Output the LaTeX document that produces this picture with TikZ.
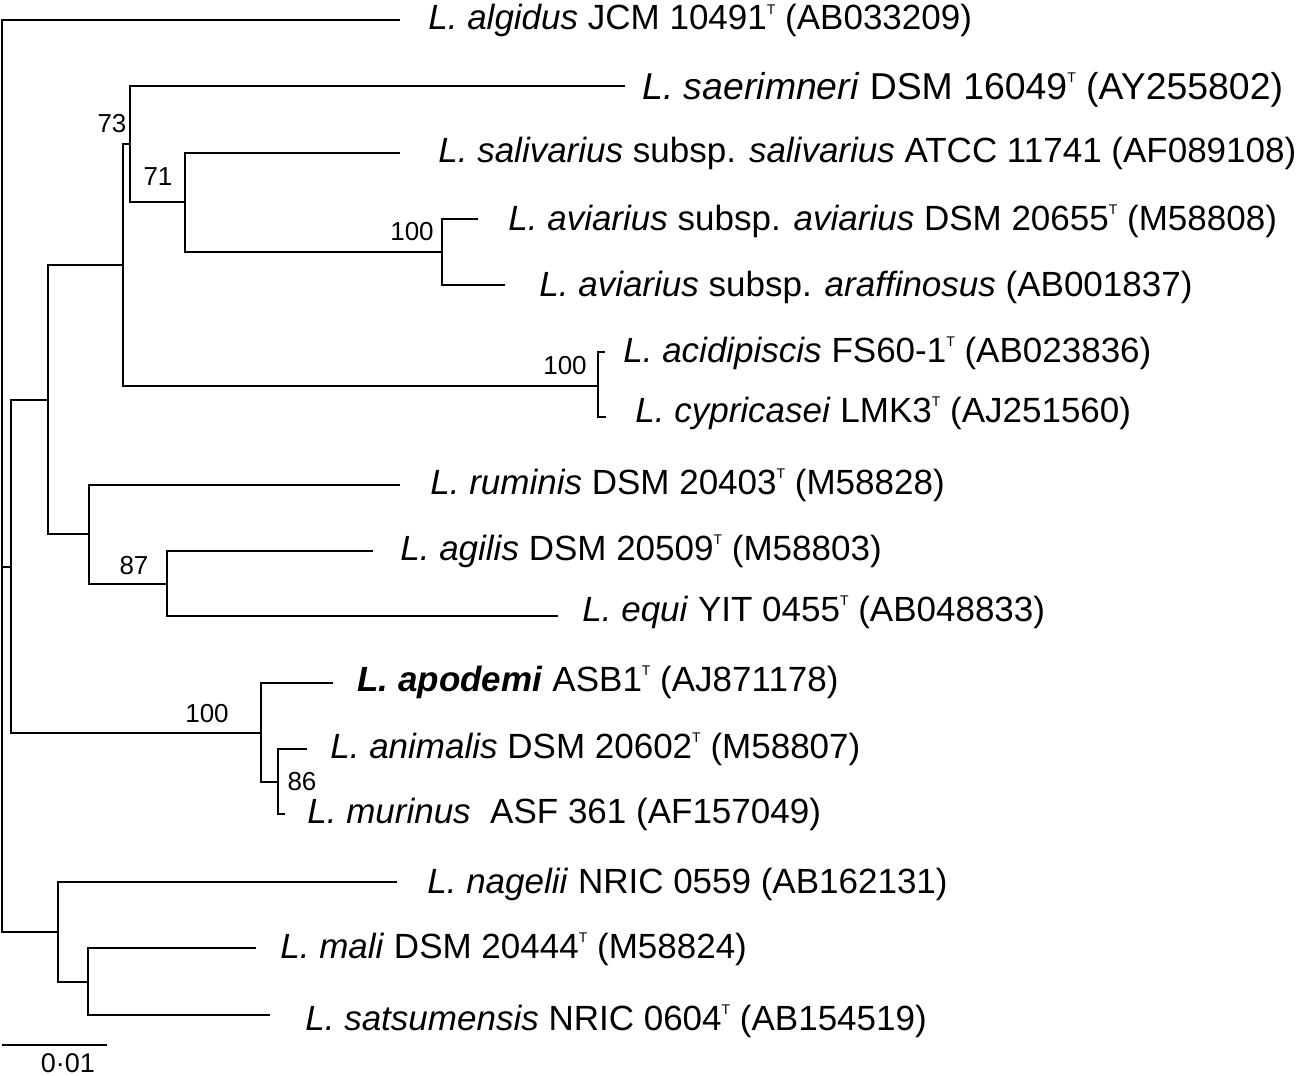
\documentclass[tikz,border=0pt]{standalone}
\usepackage{fontspec}
\setmainfont{Liberation Sans}
\usepackage{tikz}
\newcommand{\tst}{\raisebox{0.44em}{\fontsize{7}{7}\selectfont T}}
\tikzset{
  branch/.style={line width=0.8pt},
  taxon/.style={anchor=base west, inner sep=0pt, font=\fontsize{17.5}{21}\selectfont},
  boot/.style={inner sep=0pt, font=\fontsize{13}{15}\selectfont},
}

\begin{document}
\begin{tikzpicture}[x=0.5pt, y=-0.5pt]
  \useasboundingbox (0,0) rectangle (1302,1076);

  % internal nodes (x = depth, y = where the branch joins its parent)
  \coordinate (root) at (2,567);
  \coordinate (nA) at (11,567);
  \coordinate (nB) at (48,400);
  \coordinate (nC) at (123,265);
  \coordinate (nE) at (130,144);
  \coordinate (nF) at (185,202);
  \coordinate (nG) at (442,252);
  \coordinate (nK) at (598,386);
  \coordinate (nD) at (89,534);
  \coordinate (nH) at (167,584);
  \coordinate (nM) at (261,733);
  \coordinate (nL) at (278,782);
  \coordinate (nN) at (58,932);
  \coordinate (nJ) at (88,982);

  % tips
  \coordinate (tAlg) at (400,20);
  \coordinate (tSaer) at (625,86);
  \coordinate (tSal) at (400,153);
  \coordinate (tAvi) at (478,219);
  \coordinate (tAraf) at (505,285);
  \coordinate (tAcid) at (605,352);
  \coordinate (tCyp) at (606,417);
  \coordinate (tRum) at (400,485);
  \coordinate (tAgi) at (373,551);
  \coordinate (tEqu) at (558,616);
  \coordinate (tApo) at (333,683);
  \coordinate (tAni) at (307,749);
  \coordinate (tMur) at (285,814);
  \coordinate (tNag) at (397,882);
  \coordinate (tMal) at (256,948);
  \coordinate (tSat) at (270,1015);

  % branches
  \draw[branch] (root) |- (tAlg);
  \draw[branch] (root) |- (nA);
  \draw[branch] (root) |- (nN);
  \draw[branch] (nA) |- (nB);
  \draw[branch] (nA) |- (nM);
  \draw[branch] (nB) |- (nC);
  \draw[branch] (nB) |- (nD);
  \draw[branch] (nC) |- (nE);
  \draw[branch] (nC) |- (nK);
  \draw[branch] (nE) |- (tSaer);
  \draw[branch] (nE) |- (nF);
  \draw[branch] (nF) |- (tSal);
  \draw[branch] (nF) |- (nG);
  \draw[branch] (nG) |- (tAvi);
  \draw[branch] (nG) |- (tAraf);
  \draw[branch] (nK) |- (tAcid);
  \draw[branch] (nK) |- (tCyp);
  \draw[branch] (nD) |- (tRum);
  \draw[branch] (nD) |- (nH);
  \draw[branch] (nH) |- (tAgi);
  \draw[branch] (nH) |- (tEqu);
  \draw[branch] (nM) |- (tApo);
  \draw[branch] (nM) |- (nL);
  \draw[branch] (nL) |- (tAni);
  \draw[branch] (nL) |- (tMur);
  \draw[branch] (nN) |- (tNag);
  \draw[branch] (nN) |- (nJ);
  \draw[branch] (nJ) |- (tMal);
  \draw[branch] (nJ) |- (tSat);

  % taxa
  \node[taxon] (alg) at (428,30) {\textit{L. algidus} JCM 10491\tst\ (AB033209)};
  \node[taxon, font=\fontsize{18.7}{22}\selectfont] (saer) at (642,99) {\textit{L. saerimneri} DSM 16049\tst\ (AY255802)};
  \node[taxon] (sal) at (438,162) {\textit{L. salivarius} subsp. \textit{salivarius} ATCC 11741 (AF089108)};
  \node[taxon] (avi) at (508,230) {\textit{L. aviarius} subsp. \textit{aviarius} DSM 20655\tst\ (M58808)};
  \node[taxon] (araf) at (539,296) {\textit{L. aviarius} subsp. \textit{araffinosus} (AB001837)};
  \node[taxon] (acid) at (623,362) {\textit{L. acidipiscis} FS60-1\tst\ (AB023836)};
  \node[taxon] (cyp) at (635,422) {\textit{L. cypricasei} LMK3\tst\ (AJ251560)};
  \node[taxon] (rum) at (430,494) {\textit{L. ruminis} DSM 20403\tst\ (M58828)};
  \node[taxon] (agi) at (400,560) {\textit{L. agilis} DSM 20509\tst\ (M58803)};
  \node[taxon] (equ) at (582,621) {\textit{L. equi} YIT 0455\tst\ (AB048833)};
  \node[taxon] (apo) at (357,691) {\textbf{\textit{L. apodemi}} ASB1\tst\ (AJ871178)};
  \node[taxon] (ani) at (330,758) {\textit{L. animalis} DSM 20602\tst\ (M58807)};
  \node[taxon] (mur) at (307,823) {\textit{L. murinus}\ \ ASF 361 (AF157049)};
  \node[taxon] (nag) at (427,893) {\textit{L. nagelii} NRIC 0559 (AB162131)};
  \node[taxon] (mal) at (280,958) {\textit{L. mali} DSM 20444\tst\ (M58824)};
  \node[taxon] (sat) at (305,1030) {\textit{L. satsumensis} NRIC 0604\tst\ (AB154519)};

  % bootstrap values
  \node[boot] (bs73) at (112,124) {73};
  \node[boot] (bs71) at (158,177) {71};
  \node[boot] (bsAvi) at (412,232) {100};
  \node[boot] (bsAcid) at (565,366) {100};
  \node[boot] (bs87) at (134,566) {87};
  \node[boot] (bsApo) at (207,714) {100};
  \node[boot] (bs86) at (302,782) {86};

  % scale bar
  \coordinate (sb0) at (2,1045);
  \coordinate (sb1) at (107,1045);
  \draw[branch] (sb0) -- (sb1);
  \node[boot, font=\fontsize{13.5}{15}\selectfont] (sblab) at (68,1063) {0·01};
\end{tikzpicture}
\end{document}
